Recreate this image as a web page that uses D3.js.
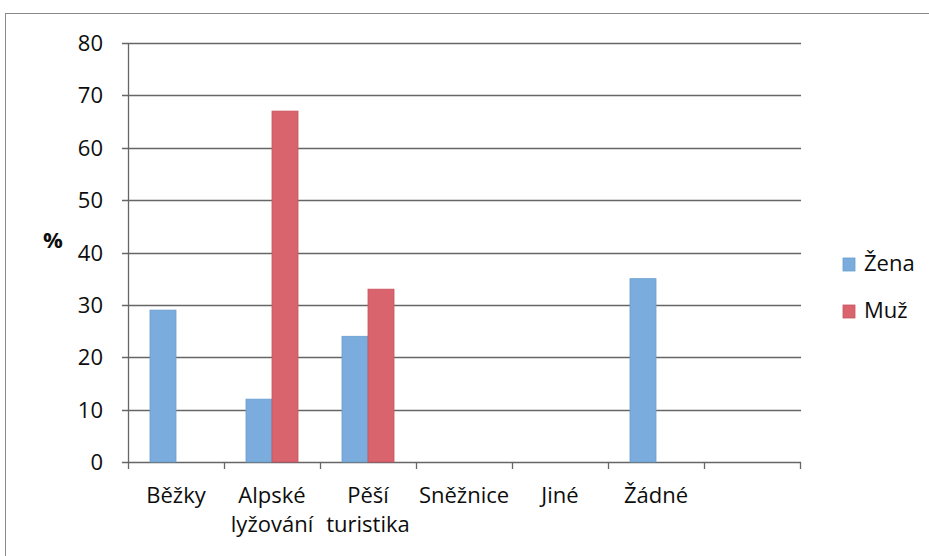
<!DOCTYPE html>
<html>
<head>
<meta charset="utf-8">
<script src="https://cdn.jsdelivr.net/npm/d3@7"></script>
<style>
  html, body { margin: 0; padding: 0; background: #fff; }
  svg { display: block; }
  text { font-family: "Open Sans", "Noto Sans", sans-serif; fill: #0d0d0d; }
</style>
</head>
<body>
<svg id="chart" width="929" height="556"></svg>
<script>
// Activity categories (multi-line labels) and share of respondents in %
const categories = ["Běžky", "Alpské lyžování", "Pěší turistika", "Sněžnice", "Jiné", "Žádné", ""];
const categoryLines = [["Běžky"], ["Alpské", "lyžování"], ["Pěší", "turistika"], ["Sněžnice"], ["Jiné"], ["Žádné"], [""]];
const seriesNames = ["Žena", "Muž"];
const zenaValues = [29, 12, 24, 0, 0, 35, 0];
const muzValues = [0, 67, 33, 0, 0, 0, 0];
const yTicks = [0, 10, 20, 30, 40, 50, 60, 70, 80];
const seriesColors = { "Žena": "#7aaddd", "Muž": "#d9646e" };
const seriesEdges = { "Žena": "#6a9dcd", "Muž": "#c8545f" };

const svg = d3.select("#chart");

// outer frame
svg.append("rect")
  .attr("x", 5.5).attr("y", 13.5)
  .attr("width", 940).attr("height", 560)
  .attr("fill", "none").attr("stroke", "#8a8a8a").attr("stroke-width", 1);

const plot = { left: 128, right: 800, top: 43, bottom: 462 };

const x = d3.scaleBand().domain(categories.map((c, i) => i)).range([plot.left, plot.right]).paddingInner(0).paddingOuter(0);
const xs = d3.scaleBand().domain(seriesNames).range([0, x.bandwidth()]).paddingInner(0).paddingOuter(0.846);
const y = d3.scaleLinear().domain([0, 80]).range([plot.bottom, plot.top]);

// horizontal gridlines
svg.append("g")
  .selectAll("line")
  .data(yTicks)
  .join("line")
  .attr("x1", plot.left - 6).attr("x2", plot.right + 1)
  .attr("y1", d => Math.round(y(d)) + 0.5).attr("y2", d => Math.round(y(d)) + 0.5)
  .attr("stroke", "#666").attr("stroke-width", 1.3);

// y tick labels
svg.append("g")
  .selectAll("text")
  .data(yTicks)
  .join("text")
  .attr("x", 103).attr("y", d => y(d) + 8)
  .attr("text-anchor", "end")
  .attr("font-size", 22)
  .text(d => d);

// axis title
svg.append("text")
  .attr("x", 53).attr("y", 248)
  .attr("text-anchor", "middle")
  .attr("font-size", 22)
  .attr("font-weight", "bold")
  .text("%");

// bars
const data = categories.map((c, i) => ({ i, values: [
  { key: "Žena", value: zenaValues[i] },
  { key: "Muž", value: muzValues[i] }
] }));

svg.append("g")
  .selectAll("g")
  .data(data)
  .join("g")
  .attr("transform", d => `translate(${x(d.i)},0)`)
  .selectAll("rect")
  .data(d => d.values.filter(v => v.value > 0))
  .join("rect")
  .attr("x", v => xs(v.key))
  .attr("width", xs.bandwidth())
  .attr("y", v => y(v.value))
  .attr("height", v => y(0) - y(v.value))
  .attr("fill", v => seriesColors[v.key])
  .attr("stroke", v => seriesEdges[v.key])
  .attr("stroke-width", 0.8);

// y axis line
svg.append("line")
  .attr("x1", plot.left + 0.5).attr("x2", plot.left + 0.5)
  .attr("y1", plot.top).attr("y2", plot.bottom + 1)
  .attr("stroke", "#666").attr("stroke-width", 1.3);

// x axis ticks at category boundaries
const boundaries = categories.map((c, i) => x(i)).concat([plot.right]);
svg.append("g")
  .selectAll("line")
  .data(boundaries)
  .join("line")
  .attr("x1", d => Math.round(d) + 0.5).attr("x2", d => Math.round(d) + 0.5)
  .attr("y1", plot.bottom).attr("y2", plot.bottom + 7)
  .attr("stroke", "#666").attr("stroke-width", 1.3);

// category labels
const labels = svg.append("g")
  .selectAll("text")
  .data(categoryLines)
  .join("text")
  .attr("text-anchor", "middle")
  .attr("font-size", 22)
  .attr("transform", (d, i) => `translate(${x(i) + x.bandwidth() / 2},503)`);
labels.selectAll("tspan")
  .data(d => d)
  .join("tspan")
  .attr("x", 0)
  .attr("y", (d, j) => j * 29)
  .text(d => d);

// legend
const legend = svg.append("g")
  .selectAll("g")
  .data(seriesNames)
  .join("g")
  .attr("transform", (d, i) => `translate(843,${258 + i * 47})`);
legend.append("rect")
  .attr("width", 12).attr("height", 13)
  .attr("fill", d => seriesColors[d])
  .attr("stroke", d => seriesEdges[d]).attr("stroke-width", 0.8);
legend.append("text")
  .attr("x", 21).attr("y", 13)
  .attr("font-size", 22)
  .text(d => d);
</script>
</body>
</html>
